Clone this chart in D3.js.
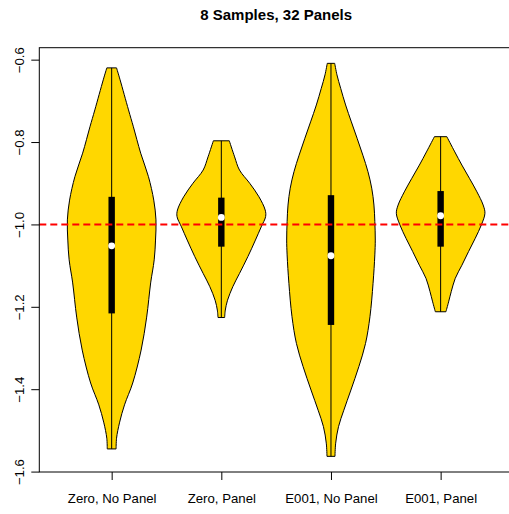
<!DOCTYPE html>
<html>
<head>
<meta charset="utf-8">
<script src="https://cdn.jsdelivr.net/npm/d3@7"></script>
<style>
  body { margin: 0; background: #fff; }
  text { font-family: 'Liberation Sans', Arial, Helvetica, sans-serif; }
</style>
</head>
<body>
<div id="chart"></div>
<script>
var width = 509
var height = 514

var groups = ['Zero, No Panel', 'Zero, Panel', 'E001, No Panel', 'E001, Panel']

// violin outlines: value (top to bottom) and relative half width (1 = widest)
var zeroNoPanelV = [-0.620, -0.649, -0.722, -0.763, -0.827, -0.884, -0.941, -0.989, -1.038, -1.086, -1.142, -1.225, -1.305, -1.385, -1.438, -1.480, -1.519, -1.545]
var zeroNoPanelW = [0.11, 0.19, 0.38, 0.49, 0.655, 0.83, 0.95, 1.0, 0.99, 0.96, 0.88, 0.79, 0.665, 0.475, 0.29, 0.18, 0.11, 0.10]

var zeroPanelV = [-0.797, -0.836, -0.868, -0.900, -0.933, -0.965, -0.981, -1.006, -1.038, -1.078, -1.119, -1.151, -1.184, -1.208, -1.226]
var zeroPanelW = [0.18, 0.30, 0.41, 0.64, 0.85, 0.99, 1.0, 0.90, 0.77, 0.60, 0.41, 0.26, 0.14, 0.09, 0.075]

var e001NoPanelV = [-0.609, -0.637, -0.670, -0.710, -0.751, -0.791, -0.832, -0.872, -0.912, -0.953, -0.993, -1.038, -1.074, -1.143, -1.224, -1.289, -1.345, -1.402, -1.451, -1.491, -1.531, -1.563]
var e001NoPanelW = [0.084, 0.135, 0.22, 0.33, 0.46, 0.59, 0.72, 0.835, 0.92, 0.97, 0.99, 1.0, 0.99, 0.95, 0.88, 0.78, 0.63, 0.45, 0.29, 0.17, 0.106, 0.09]

var e001PanelV = [-0.787, -0.824, -0.856, -0.888, -0.921, -0.953, -0.973, -1.001, -1.034, -1.066, -1.099, -1.131, -1.163, -1.188, -1.212]
var e001PanelW = [0.14, 0.32, 0.48, 0.65, 0.82, 0.96, 1.0, 0.92, 0.78, 0.63, 0.48, 0.33, 0.24, 0.18, 0.12]

// box stats per group
var q1 = [-1.216, -1.054, -1.244, -1.054]
var medians = [-1.052, -0.983, -1.076, -0.979]
var q3 = [-0.933, -0.935, -0.929, -0.919]

var yTicks = [-0.6, -0.8, -1.0, -1.2, -1.4, -1.6]
var refLine = -1.0

var outlines = [
  [zeroNoPanelV, zeroNoPanelW],
  [zeroPanelV, zeroPanelW],
  [e001NoPanelV, e001NoPanelW],
  [e001PanelV, e001PanelW]
]

var svg = d3
  .select('#chart')
  .append('svg')
  .attr('width', width)
  .attr('height', height)

var xScale = d3.scaleLinear().domain([0.34, 4.66]).range([39.3, 513])
var yScale = d3.scaleLinear().domain([-1.601, -0.571]).range([472, 47.7])
var wScale = d3.scaleLinear().domain([0, 1]).range([0, xScale(1.404) - xScale(1)])

var fmt = d3.format('.1f')

groups.forEach((g, i) => {
  var cx = xScale(i + 1)
  var vals = outlines[i][0]
  var wids = outlines[i][1]
  var pts = vals.map((v, j) => ({ v: v, w: wids[j] }))

  var area = d3
    .area()
    .y(d => yScale(d.v))
    .x0(d => cx - wScale(d.w))
    .x1(d => cx + wScale(d.w))
    .curve(d3.curveCatmullRom)

  svg
    .append('path')
    .datum(pts)
    .attr('d', area)
    .attr('fill', '#FFD700')
    .attr('stroke', 'black')
    .attr('stroke-width', 1)

  // whisker from min to max
  svg
    .append('line')
    .attr('x1', cx)
    .attr('x2', cx)
    .attr('y1', yScale(d3.max(vals)))
    .attr('y2', yScale(d3.min(vals)))
    .attr('stroke', 'black')
    .attr('stroke-width', 1)

  svg
    .append('rect')
    .attr('x', cx - 3.2)
    .attr('width', 6.4)
    .attr('y', yScale(q3[i]))
    .attr('height', yScale(q1[i]) - yScale(q3[i]))
    .attr('fill', 'black')

  svg
    .append('circle')
    .attr('cx', cx)
    .attr('cy', yScale(medians[i]))
    .attr('r', 3.4)
    .attr('fill', 'white')
})

// reference line
svg
  .append('line')
  .attr('x1', xScale(0.34))
  .attr('x2', xScale(4.66))
  .attr('y1', yScale(refLine))
  .attr('y2', yScale(refLine))
  .attr('stroke', 'red')
  .attr('stroke-width', 2)
  .attr('stroke-dasharray', '7,4')

// plot box
svg
  .append('rect')
  .attr('x', xScale(0.34))
  .attr('y', yScale(-0.571))
  .attr('width', xScale(4.66) - xScale(0.34))
  .attr('height', yScale(-1.601) - yScale(-0.571))
  .attr('fill', 'none')
  .attr('stroke', 'black')
  .attr('stroke-width', 1)

// y axis
var yAxis = svg
  .append('g')
  .attr('transform', `translate(${xScale(0.34)},0)`)
  .call(d3.axisLeft(yScale).tickValues(yTicks).tickFormat(fmt).tickSize(8).tickSizeOuter(0))

yAxis.select('.domain').remove()
yAxis
  .selectAll('text')
  .attr('transform', 'rotate(-90)')
  .attr('x', 0)
  .attr('y', -15.8)
  .attr('dy', 0)
  .attr('text-anchor', 'middle')
  .attr('font-size', 13.2)
  .attr('fill', 'black')
  .style('font-family', "'Liberation Sans', Arial, Helvetica, sans-serif")

// x axis
var xAxis = svg
  .append('g')
  .attr('transform', `translate(0,${yScale(-1.601)})`)
  .call(
    d3
      .axisBottom(xScale)
      .tickValues([1, 2, 3, 4])
      .tickFormat(d => groups[d - 1])
      .tickSize(8)
      .tickSizeOuter(0)
  )

xAxis.select('.domain').remove()
xAxis
  .selectAll('text')
  .attr('y', 30.7)
  .attr('dy', 0)
  .attr('font-size', 13.2)
  .attr('fill', 'black')
  .style('font-family', "'Liberation Sans', Arial, Helvetica, sans-serif")

// title
svg
  .append('text')
  .text('8 Samples, 32 Panels')
  .attr('x', (xScale(0.34) + xScale(4.66)) / 2)
  .attr('y', 20)
  .attr('text-anchor', 'middle')
  .attr('font-size', 15)
  .attr('font-weight', 'bold')
  .attr('fill', 'black')
</script>
</body>
</html>
